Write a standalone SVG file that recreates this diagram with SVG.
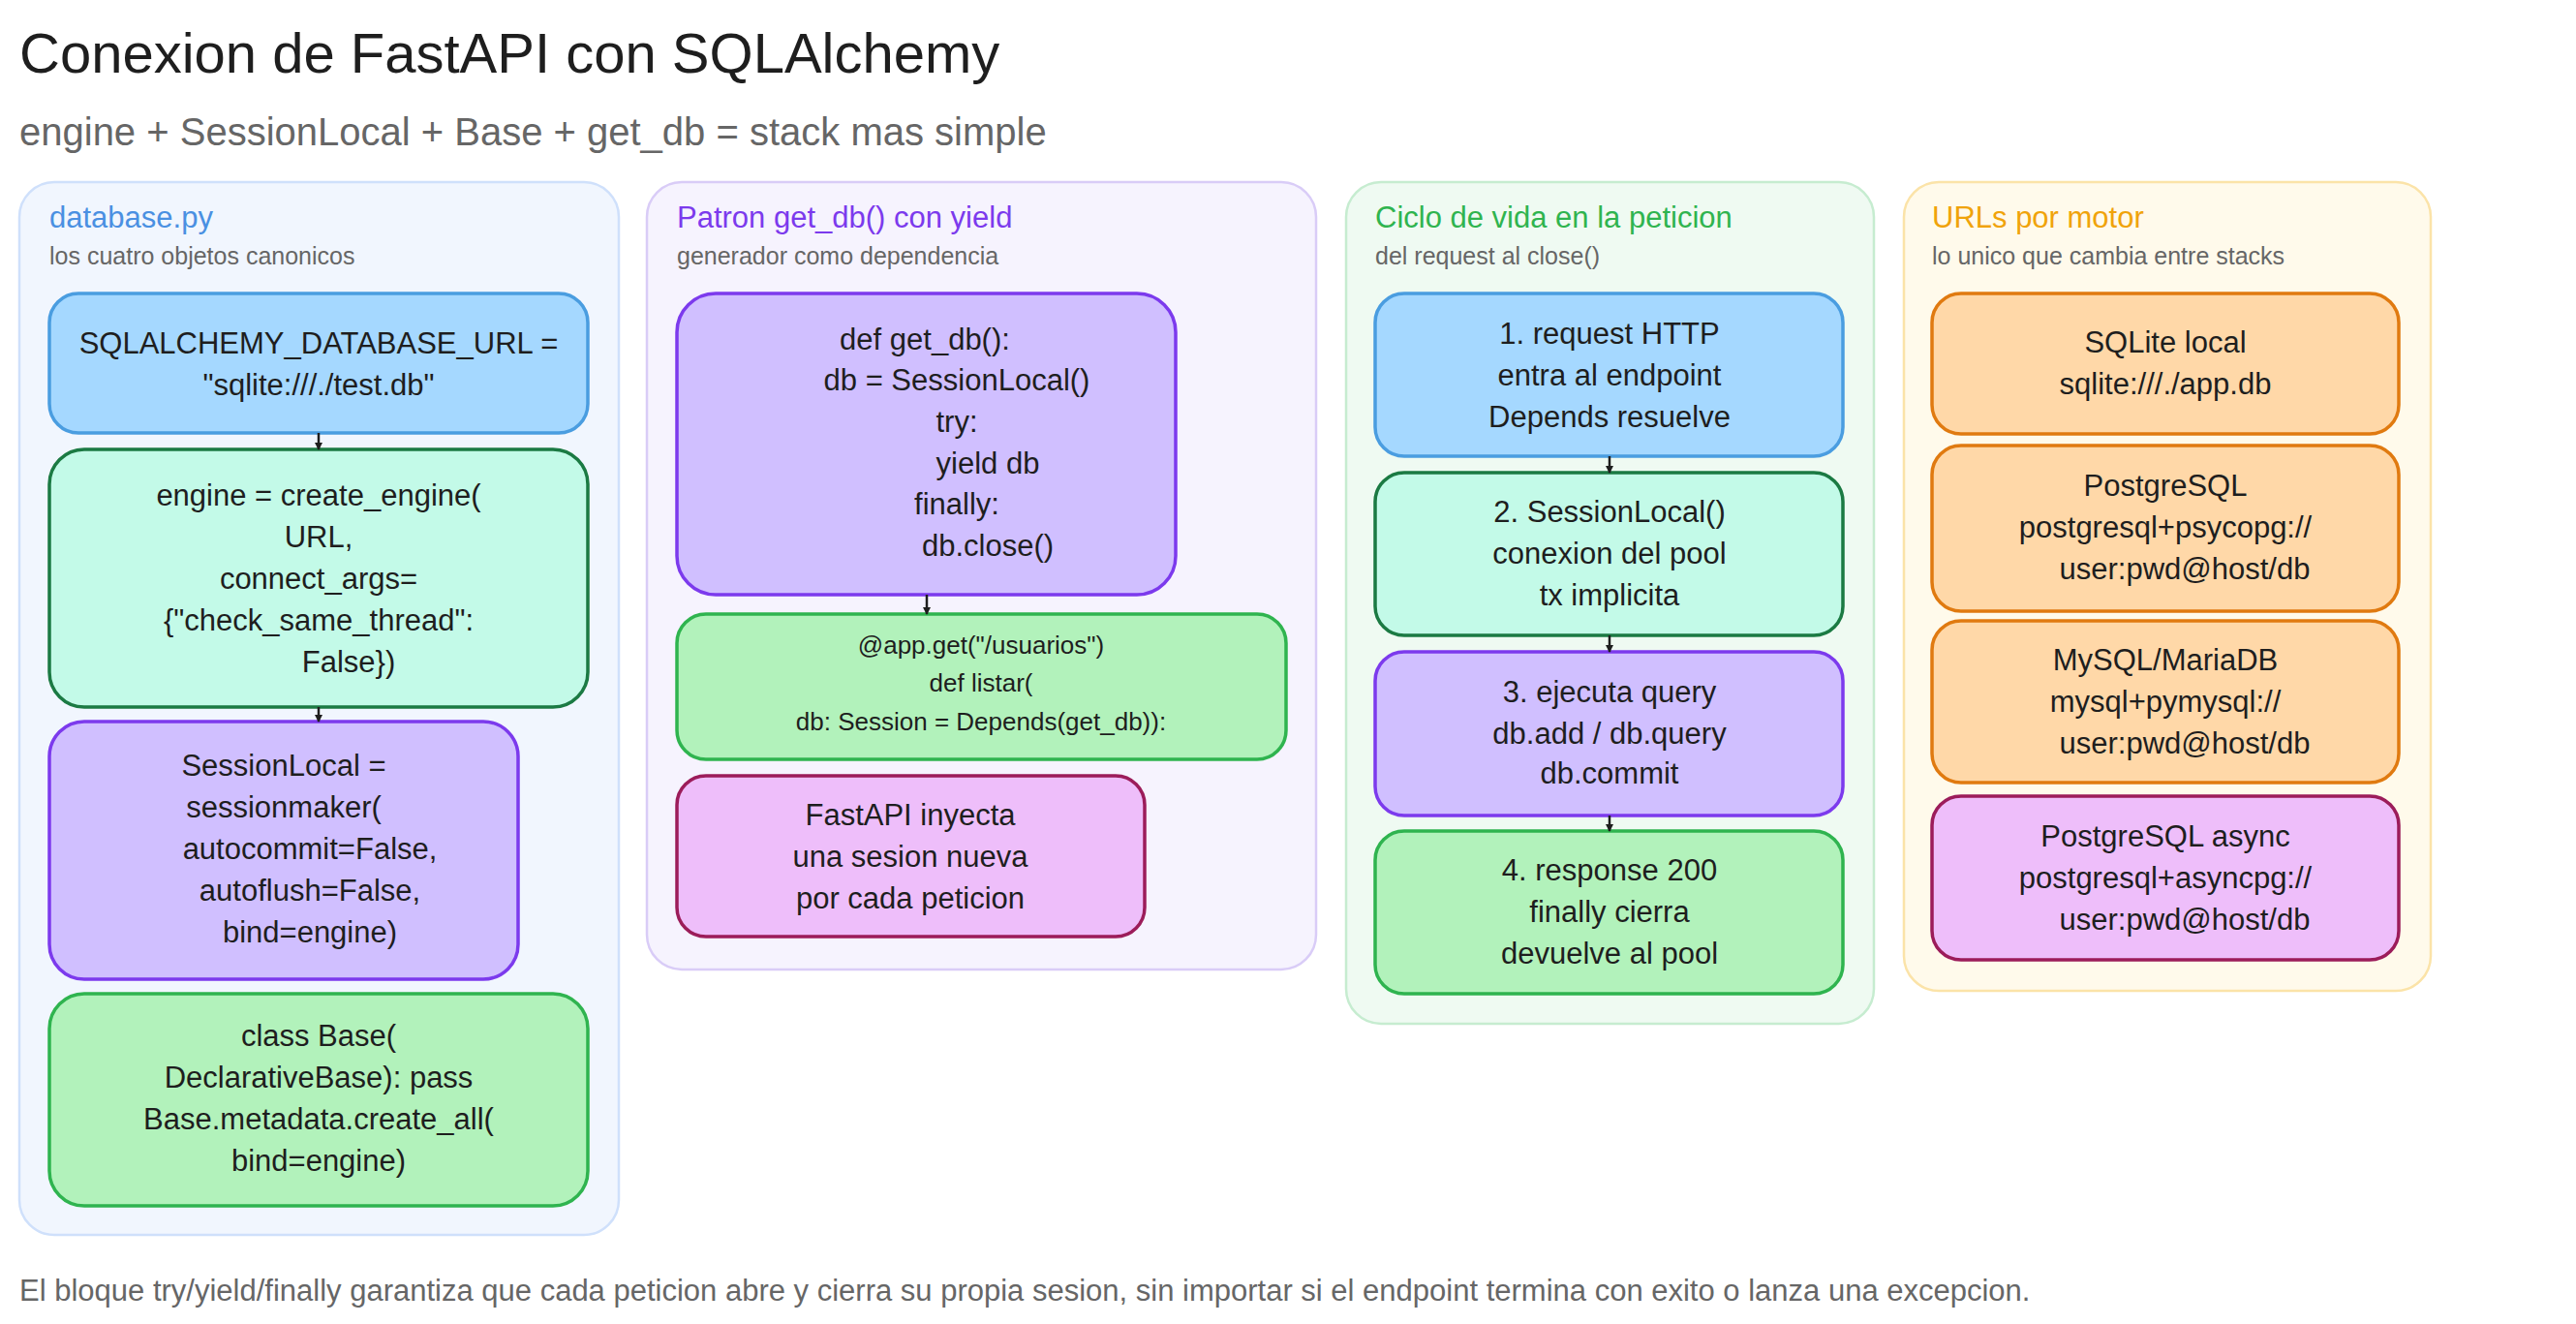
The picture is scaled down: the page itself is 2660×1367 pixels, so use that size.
<svg xmlns="http://www.w3.org/2000/svg" width="2660" height="1367" viewBox="0 0 2660 1367">
<style>
text{font-family:"Liberation Sans",Arial,sans-serif}
.t{font-size:31px;fill:#1e1e1e;text-anchor:middle}
.s{font-size:26px;fill:#1e1e1e;text-anchor:middle}
.h{font-size:31px}
.sub{font-size:25px;fill:#666}
.n{stroke-width:3.5}
.blue{fill:#a5d8ff;stroke:#4a9de0}
.teal{fill:#c3fae8;stroke:#1b7a43}
.purp{fill:#d0bfff;stroke:#7c3aed}
.grn{fill:#b2f2bb;stroke:#2fb44f}
.pink{fill:#eebefa;stroke:#9c1c5a}
.org{fill:#ffd8a8;stroke:#e07a10}
.c{stroke:#1e1e1e;stroke-width:2.5;fill:none;marker-end:url(#a)}
</style>
<defs><marker id="a" markerWidth="8" markerHeight="8" refX="7" refY="4" orient="auto" markerUnits="userSpaceOnUse"><path d="M0,0L8,4L0,8z" fill="#1e1e1e"/></marker></defs>
<rect width="2660" height="1367" fill="#fff"/>
<text x="20" y="75" font-size="58" fill="#1e1e1e">Conexion de FastAPI con SQLAlchemy</text>
<text x="20" y="150" font-size="40" fill="#666">engine + SessionLocal + Base + get_db = stack mas simple</text>

<g id="panel1">
<rect x="20" y="188" width="619" height="1087" rx="36" fill="#f1f6fe" stroke="#cfe0fb" stroke-width="2.5"/>
<text x="51" y="235" class="h" fill="#4a90e2">database.py</text>
<text x="51" y="273" class="sub">los cuatro objetos canonicos</text>
</g>
<g id="n1"><rect x="51" y="303" width="556" height="144" rx="30" class="n blue"/>
<text class="t" x="329" y="365">SQLALCHEMY_DATABASE_URL =</text><text class="t" x="329" y="408">"sqlite:///./test.db"</text></g>
<g id="n2"><rect x="51" y="464" width="556" height="266" rx="36" class="n teal"/>
<text class="t" x="329" y="522">engine = create_engine(</text><text class="t" x="329" y="565">URL,</text><text class="t" x="329" y="608">connect_args=</text><text class="t" x="329" y="651">{"check_same_thread":</text><text class="t" x="360" y="694">False})</text></g>
<g id="n3"><rect x="51" y="745" width="484" height="266" rx="36" class="n purp"/>
<text class="t" x="293" y="801">SessionLocal =</text><text class="t" x="293" y="844">sessionmaker(</text><text class="t" x="320" y="887">autocommit=False,</text><text class="t" x="320" y="930">autoflush=False,</text><text class="t" x="320" y="973">bind=engine)</text></g>
<g id="n4"><rect x="51" y="1026" width="556" height="219" rx="36" class="n grn"/>
<text class="t" x="329" y="1080">class Base(</text><text class="t" x="329" y="1123">DeclarativeBase): pass</text><text class="t" x="329" y="1166">Base.metadata.create_all(</text><text class="t" x="329" y="1209">bind=engine)</text></g>

<g id="panel2">
<rect x="668" y="188" width="691" height="813" rx="36" fill="#f6f3fe" stroke="#d9ccf7" stroke-width="2.5"/>
<text x="699" y="235" class="h" fill="#7c3aed">Patron get_db() con yield</text>
<text x="699" y="273" class="sub">generador como dependencia</text>
</g>
<g id="n5"><rect x="699" y="303" width="515" height="311" rx="40" class="n purp"/>
<text class="t" x="955" y="361">def get_db():</text><text class="t" x="988" y="403">db = SessionLocal()</text><text class="t" x="988" y="446">try:</text><text class="t" x="1020" y="489">yield db</text><text class="t" x="988" y="531">finally:</text><text class="t" x="1020" y="574">db.close()</text></g>
<g id="n6"><rect x="699" y="634" width="629" height="150" rx="30" class="n grn"/>
<text class="s" x="1013" y="675">@app.get("/usuarios")</text><text class="s" x="1013" y="714">def listar(</text><text class="s" x="1013" y="754">db: Session = Depends(get_db)):</text></g>
<g id="n7"><rect x="699" y="801" width="483" height="166" rx="30" class="n pink"/>
<text class="t" x="940" y="852">FastAPI inyecta</text><text class="t" x="940" y="895">una sesion nueva</text><text class="t" x="940" y="938">por cada peticion</text></g>

<g id="panel3">
<rect x="1390" y="188" width="545" height="869" rx="36" fill="#effaf2" stroke="#c6ecd0" stroke-width="2.5"/>
<text x="1420" y="235" class="h" fill="#2fb44f">Ciclo de vida en la peticion</text>
<text x="1420" y="273" class="sub">del request al close()</text>
</g>
<g id="n8"><rect x="1420" y="303" width="483" height="168" rx="30" class="n blue"/>
<text class="t" x="1662" y="355">1. request HTTP</text><text class="t" x="1662" y="398">entra al endpoint</text><text class="t" x="1662" y="441">Depends resuelve</text></g>
<g id="n9"><rect x="1420" y="488" width="483" height="168" rx="30" class="n teal"/>
<text class="t" x="1662" y="539">2. SessionLocal()</text><text class="t" x="1662" y="582">conexion del pool</text><text class="t" x="1662" y="625">tx implicita</text></g>
<g id="n10"><rect x="1420" y="673" width="483" height="169" rx="30" class="n purp"/>
<text class="t" x="1662" y="725">3. ejecuta query</text><text class="t" x="1662" y="768">db.add / db.query</text><text class="t" x="1662" y="809">db.commit</text></g>
<g id="n11"><rect x="1420" y="858" width="483" height="168" rx="30" class="n grn"/>
<text class="t" x="1662" y="909">4. response 200</text><text class="t" x="1662" y="952">finally cierra</text><text class="t" x="1662" y="995">devuelve al pool</text></g>

<g id="panel4">
<rect x="1966" y="188" width="544" height="835" rx="36" fill="#fffaeb" stroke="#fbe3a8" stroke-width="2.5"/>
<text x="1995" y="235" class="h" fill="#f0a30a">URLs por motor</text>
<text x="1995" y="273" class="sub">lo unico que cambia entre stacks</text>
</g>
<g id="n12"><rect x="1995" y="303" width="482" height="145" rx="30" class="n org"/>
<text class="t" x="2236" y="364">SQLite local</text><text class="t" x="2236" y="407">sqlite:///./app.db</text></g>
<g id="n13"><rect x="1995" y="460" width="482" height="171" rx="30" class="n org"/>
<text class="t" x="2236" y="512">PostgreSQL</text><text class="t" x="2236" y="555">postgresql+psycopg://</text><text class="t" x="2256" y="598">user:pwd@host/db</text></g>
<g id="n14"><rect x="1995" y="641" width="482" height="167" rx="30" class="n org"/>
<text class="t" x="2236" y="692">MySQL/MariaDB</text><text class="t" x="2236" y="735">mysql+pymysql://</text><text class="t" x="2256" y="778">user:pwd@host/db</text></g>
<g id="n15"><rect x="1995" y="822" width="482" height="169" rx="30" class="n pink"/>
<text class="t" x="2236" y="874">PostgreSQL async</text><text class="t" x="2236" y="917">postgresql+asyncpg://</text><text class="t" x="2256" y="960">user:pwd@host/db</text></g>

<g id="connectors">
<path class="c" d="M329,447V464"/>
<path class="c" d="M329,730V745"/>
<path class="c" d="M957,614V634"/>
<path class="c" d="M1662,471V488"/>
<path class="c" d="M1662,656V673"/>
<path class="c" d="M1662,842V858"/>
</g>

<text x="20" y="1343" font-size="31" fill="#666">El bloque try/yield/finally garantiza que cada peticion abre y cierra su propia sesion, sin importar si el endpoint termina con exito o lanza una excepcion.</text>
</svg>
